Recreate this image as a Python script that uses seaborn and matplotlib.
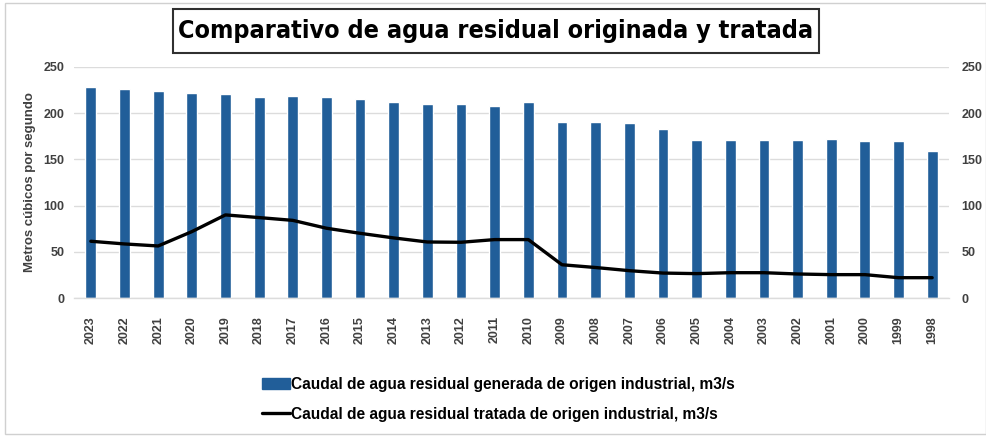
import matplotlib
matplotlib.use("Agg")
import matplotlib.pyplot as plt
from matplotlib.patches import Rectangle, Patch
from matplotlib.lines import Line2D
from matplotlib.ticker import FixedLocator
import seaborn as sns
import pandas as pd
import numpy as np

years = ["2023", "2022", "2021", "2020", "2019", "2018", "2017", "2016", "2015",
         "2014", "2013", "2012", "2011", "2010", "2009", "2008", "2007", "2006",
         "2005", "2004", "2003", "2002", "2001", "2000", "1999", "1998"]
generada = [228, 226, 224, 222, 221, 217.5, 218, 217.5, 215, 212, 210, 209.5, 208,
            212, 190.5, 190.5, 189, 183, 171, 171, 171, 171, 171.5, 170, 170, 159.5]
tratada = [61.4, 58.5, 56.3, 71.8, 89.9, 87, 84, 75.5, 70, 65, 60.6, 60.3, 63.2,
           63.2, 36, 33, 29.6, 27, 26.4, 27.4, 27.4, 26, 25.3, 25.3, 22, 22]
yticks = [0, 50, 100, 150, 200, 250]

title = "Comparativo de agua residual originada y tratada"
ylabel = "Metros cúbicos por segundo"
lab_gen = "Caudal de agua residual generada de origen industrial, m3/s"
lab_tra = "Caudal de agua residual tratada de origen industrial, m3/s"

df = pd.DataFrame({"year": years, "generada": generada, "tratada": tratada})

sns.set_theme(style="white")
plt.rcParams["font.family"] = ["Liberation Sans", "DejaVu Sans"]

BLUE = "#215e99"
GRID = "#dcdcdc"
TXT = "#404040"
W, H = 987, 437

fig = plt.figure(figsize=(9.87, 4.37), dpi=100)
ax = fig.add_axes([0.075, 0.318, 0.8865, 0.529])

sns.barplot(data=df, x="year", y="generada", order=years, color=BLUE,
            width=0.32, saturation=1, ax=ax, zorder=2)
sns.pointplot(data=df, x="year", y="tratada", order=years, color="black",
              markers="", linestyles="-", ax=ax, zorder=3)
for l in ax.lines:
    l.set_linewidth(2.4)

ax.set_ylim(0, 250)
ax.set_xlim(-0.5, len(years) - 0.5)
ax.set_yticks(yticks)
ax.yaxis.grid(True, color=GRID, linewidth=1)
ax.set_axisbelow(True)
for s in ["top", "right", "left"]:
    ax.spines[s].set_visible(False)
ax.spines["bottom"].set_color(GRID)
ax.spines["bottom"].set_linewidth(1)

ax.set_xlabel("")
ax.set_ylabel(ylabel, fontsize=9.5, fontweight="bold", color=TXT)
ax.yaxis.set_label_coords(-0.0434, 0.5)
ax.tick_params(axis="y", length=0, labelsize=9, labelcolor=TXT, pad=7)
ax.tick_params(axis="x", which="major", length=0, labelsize=9,
               labelcolor=TXT, rotation=90, pad=13)
ax.xaxis.set_minor_locator(FixedLocator(np.arange(-0.5, len(years), 1.0)))
ax.tick_params(axis="x", which="minor", length=5, color=GRID, width=1)
for t in ax.get_xticklabels() + ax.get_yticklabels():
    t.set_fontweight("bold")

ax2 = ax.twinx()
ax2.set_ylim(0, 250)
ax2.set_yticks(yticks)
ax2.tick_params(axis="y", length=0, labelsize=9, labelcolor=TXT, pad=9)
for t in ax2.get_yticklabels():
    t.set_fontweight("bold")
for s in ax2.spines.values():
    s.set_visible(False)
ax2.grid(False)

fig.patches.append(Rectangle((173 / W, 1 - 53 / H), 646 / W, 44 / H,
                             transform=fig.transFigure, facecolor="white",
                             edgecolor="#303030", linewidth=1.5, zorder=1))
fig.text(496 / W, 1 - 31 / H, title, ha="center", va="center", fontsize=18,
         fontweight="bold", family="DejaVu Sans", fontstretch="condensed",
         color="black", zorder=2)

handles = [Patch(facecolor=BLUE, edgecolor=BLUE),
           Line2D([0], [0], color="black", linewidth=2.4)]
fig.legend(handles, [lab_gen, lab_tra], loc="upper left",
           bbox_to_anchor=(0.265, 0.137), frameon=False,
           prop=dict(size=11.2, weight="bold"), labelcolor="black",
           handlelength=1.8, handletextpad=0.1, labelspacing=0.95,
           borderaxespad=0, borderpad=0)

fig.patches.append(Rectangle((0.005, 0.008), 0.994, 0.985, transform=fig.transFigure,
                             fill=False, edgecolor="#d0d0d0", linewidth=1))

fig.savefig("out.png", dpi=100)
